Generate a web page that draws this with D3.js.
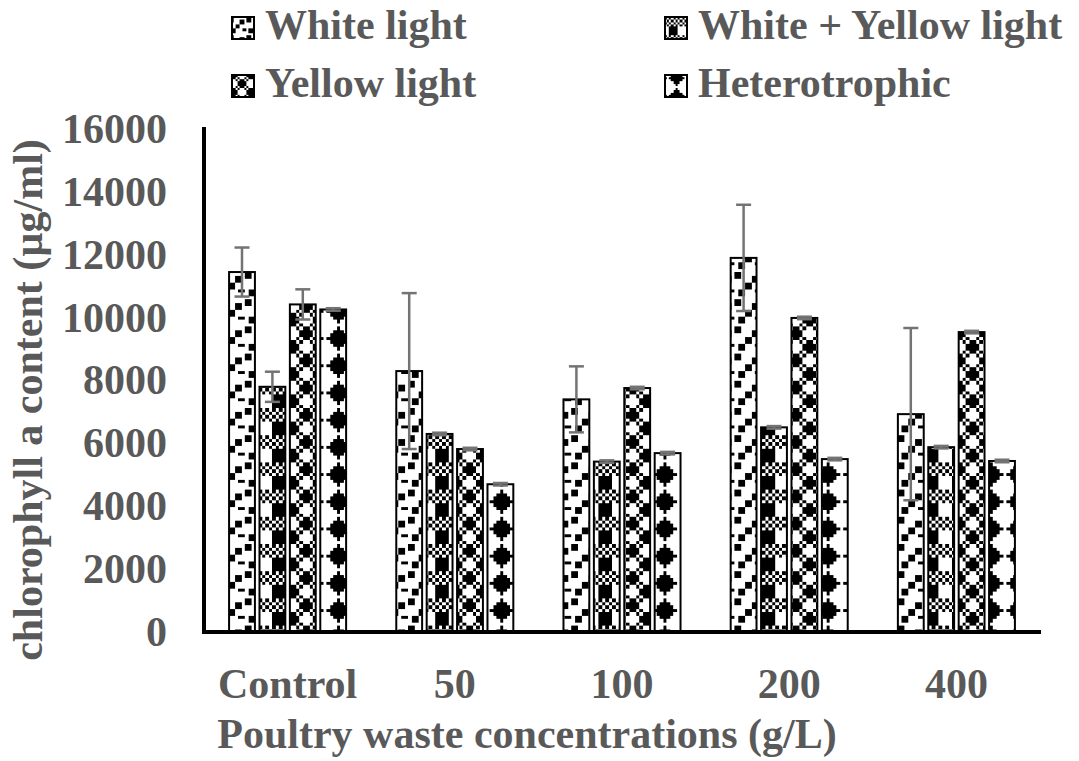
<!DOCTYPE html>
<html><head><meta charset="utf-8">
<script src="https://cdn.jsdelivr.net/npm/d3@7"></script>
<style>body{margin:0;background:#fff}svg{display:block}</style></head>
<body><svg id="c" width="1079" height="761"></svg>
<script>
const categories = ["Control", "50", "100", "200", "400"];
const seriesNames = ["White light", "White + Yellow light", "Yellow light", "Heterotrophic"];
const whiteLight = [11450, 8300, 7400, 11900, 6930];
const whiteYellowLight = [7800, 6300, 5420, 6510, 5880];
const yellowLight = [10420, 5820, 7760, 9990, 9540];
const heterotrophic = [10260, 4700, 5690, 5500, 5440];
const whiteLightSD = [780, 2480, 1050, 1690, 2740];
const whiteYellowLightSD = [480, 40, 40, 40, 40];
const yellowLightSD = [480, 40, 40, 40, 40];
const heterotrophicSD = [40, 40, 40, 40, 40];
const yTicks = [0, 2000, 4000, 6000, 8000, 10000, 12000, 14000, 16000];
const xTitle = "Poultry waste concentrations (g/L)";
const yTitle = "chlorophyll a content (µg/ml)";

const seriesValues = [whiteLight, whiteYellowLight, yellowLight, heterotrophic];
const seriesSD = [whiteLightSD, whiteYellowLightSD, yellowLightSD, heterotrophicSD];

// 8x8 bit patterns (Excel-like)
const patternBits = [
  ["11000000","11000110","00000110","00011000","00011000","01100011","01100000","00000000"], // large confetti
  ["10101010","01010101","10101010","01010101","11110000","11110000","11110000","11110000"], // plaid
  ["01101001","11110000","11110000","01101001","10010110","00001111","00001111","10010110"], // sphere-ish
  ["00010000","00111000","01111100","11111110","01111100","00111000","00010000","00000000"]  // solid diamond
];

const svg = d3.select("#c");
const font = "'Liberation Serif','Times New Roman',serif";
const textColor = "#595959";
const defs = svg.append("defs");

function makePattern(id, bits, scale) {
  const p = defs.append("pattern").attr("id", id)
    .attr("patternUnits", "userSpaceOnUse")
    .attr("width", 8).attr("height", 8)
    .attr("patternTransform", `scale(${scale})`);
  p.append("rect").attr("width", 8).attr("height", 8).attr("fill", "#fff");
  bits.forEach((row, r) => {
    row.split("").forEach((b, c) => {
      if (b === "1") p.append("rect").attr("x", c).attr("y", r).attr("width", 1).attr("height", 1)
        .attr("fill", "#000").attr("shape-rendering", "crispEdges");
    });
  });
}
patternBits.forEach((b, i) => { makePattern("pat" + i, b, 3.4); makePattern("leg" + i, b, 2.2); });

const x0 = d3.scaleBand().domain(categories).range([204, 1040]).paddingInner(0.3).paddingOuter(0.15);
const x1 = d3.scaleBand().domain(seriesNames).range([0, x0.bandwidth()]).paddingInner(0.15);
const y = d3.scaleLinear().domain([0, 16000]).range([632, 129]);

// bars
const g = svg.append("g");
seriesNames.forEach((s, si) => {
  g.selectAll(null).data(categories).enter().append("rect")
    .attr("x", d => x0(d) + x1(s))
    .attr("y", (d, i) => y(seriesValues[si][i]))
    .attr("width", x1.bandwidth())
    .attr("height", (d, i) => y(0) - y(seriesValues[si][i]))
    .attr("fill", `url(#pat${si})`)
    .attr("stroke", "#000").attr("stroke-width", 2);
});
// error bars
seriesNames.forEach((s, si) => {
  categories.forEach((c, i) => {
    const cx = x0(c) + x1(s) + x1.bandwidth() / 2;
    const v = seriesValues[si][i], sd = seriesSD[si][i];
    const eg = g.append("g").attr("stroke", "#737373").attr("stroke-width", 2.5);
    eg.append("line").attr("x1", cx).attr("x2", cx).attr("y1", y(v + sd)).attr("y2", y(v - sd));
    eg.append("line").attr("x1", cx - 7.5).attr("x2", cx + 7.5).attr("y1", y(v + sd)).attr("y2", y(v + sd));
    eg.append("line").attr("x1", cx - 7.5).attr("x2", cx + 7.5).attr("y1", y(v - sd)).attr("y2", y(v - sd));
  });
});

// axes
const yAxis = d3.axisLeft(y).tickValues(yTicks).tickSize(0).tickPadding(37).tickFormat(d3.format("d"));
const ya = svg.append("g").attr("transform", "translate(204,0)").call(yAxis);
ya.select(".domain").remove();
ya.selectAll("text").attr("font-family", font).attr("font-weight", "bold").attr("font-size", 42).attr("fill", textColor);

const xAxis = d3.axisBottom(x0).tickSize(0).tickPadding(36);
const xa = svg.append("g").attr("transform", "translate(0,632)").call(xAxis);
xa.select(".domain").remove();
xa.selectAll("text").attr("font-family", font).attr("font-weight", "bold").attr("font-size", 42).attr("fill", textColor);

svg.append("line").attr("x1", 204).attr("x2", 204).attr("y1", 127).attr("y2", 634).attr("stroke", "#000").attr("stroke-width", 4);
svg.append("line").attr("x1", 202).attr("x2", 1041).attr("y1", 632).attr("y2", 632).attr("stroke", "#000").attr("stroke-width", 4);

// titles
svg.append("text").attr("x", 527).attr("y", 748).attr("text-anchor", "middle")
  .attr("font-family", font).attr("font-weight", "bold").attr("font-size", 42).attr("fill", textColor).text(xTitle);
svg.append("text").attr("transform", "translate(42,400) rotate(-90)").attr("text-anchor", "middle")
  .attr("font-family", font).attr("font-weight", "bold").attr("font-size", 42).attr("fill", textColor).text(yTitle);

// legend
const legPos = [[232, 17], [665, 17], [232, 75], [665, 75]];
const legOrder = [0, 1, 2, 3];
legOrder.forEach((si, k) => {
  const [lx, ly] = legPos[k];
  svg.append("rect").attr("x", lx).attr("y", ly).attr("width", 22).attr("height", 22)
    .attr("fill", `url(#leg${si})`).attr("stroke", "#000").attr("stroke-width", 2);
  svg.append("text").attr("x", lx + 33).attr("y", ly + 22)
    .attr("font-family", font).attr("font-weight", "bold").attr("font-size", 42).attr("fill", textColor)
    .text(seriesNames[si]);
});
</script></body></html>
